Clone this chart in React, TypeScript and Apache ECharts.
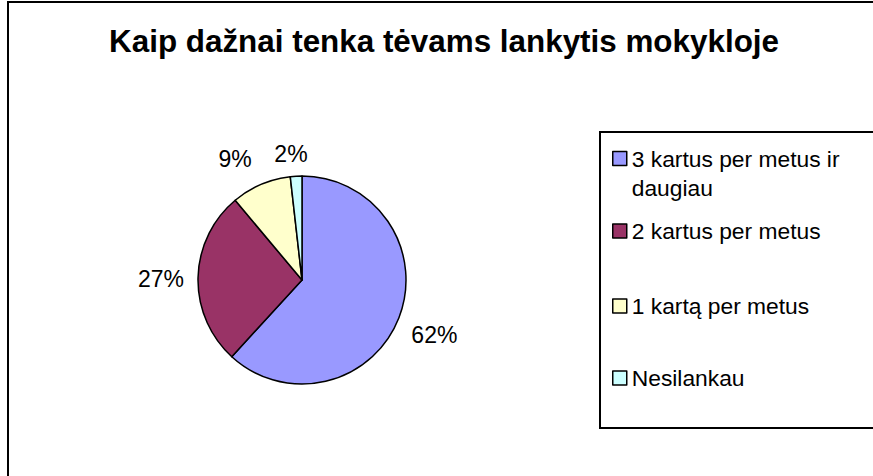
import React, { useEffect, useRef } from "react";
import * as echarts from "echarts";

const titleText = "Kaip dažnai tenka tėvams lankytis mokykloje";
const categories = [
  "3 kartus per metus ir daugiau",
  "2 kartus per metus",
  "1 kartą per metus",
  "Nesilankau",
];
const values = [61.8, 27.1, 9.3, 1.8];
const colors = ["#9999FF", "#993366", "#FFFFCC", "#CCFFFF"];
const legendTops = [115, 216.5, 291.5, 363.5];

export default function App() {
  const ref = useRef<HTMLDivElement>(null);
  useEffect(() => {
    if (!ref.current) return;
    const chart = echarts.init(ref.current, undefined, { renderer: "svg" });
    const font = "'Liberation Sans', Arial, sans-serif";
    const data = categories.map((name, i) => ({
      name,
      value: values[i],
      itemStyle: { color: colors[i] },
    }));
    const labelShift: Record<number, [number, number]> = {
      0: [0, 4],
      1: [1, 2],
      2: [-11, 9],
      3: [-3, 16],
    };
    chart.setOption({
      animation: false,
      backgroundColor: "#ffffff",
      title: {
        text: titleText,
        left: 444,
        top: 26,
        padding: 0,
        textAlign: "center",
        textStyle: {
          fontFamily: font,
          fontSize: 31.4,
          fontWeight: "bold",
          color: "#000",
        },
      },
      legend: categories.map((name, i) => ({
        data: [name],
        orient: "vertical",
        left: 612,
        top: legendTops[i],
        padding: 0,
        itemWidth: 14,
        itemHeight: 14,
        icon: "rect",
        selectedMode: false,
        itemStyle: { borderColor: "#000", borderWidth: 1.5 },
        formatter: i === 0 ? () => "\n3 kartus per metus ir\ndaugiau" : undefined,
        textStyle: {
          fontFamily: font,
          fontSize: 22.8,
          lineHeight: 29,
          color: "#000",
        },
      })),
      graphic: [
        {
          type: "rect",
          shape: { x: 8, y: 2, width: 900, height: 520 },
          style: { fill: "none", stroke: "#000", lineWidth: 2 },
          silent: true,
          z: -1,
        },
        {
          type: "rect",
          shape: { x: 600, y: 132, width: 300, height: 296 },
          style: { fill: "none", stroke: "#000", lineWidth: 2 },
          silent: true,
          z: -1,
        },
      ],
      series: [
        {
          type: "pie",
          center: [302, 280],
          radius: 104,
          startAngle: 90,
          clockwise: true,
          avoidLabelOverlap: false,
          silent: true,
          label: { show: false },
          labelLine: { show: false },
          itemStyle: { borderColor: "#000", borderWidth: 1.5 },
          emphasis: { disabled: true },
          data,
        },
        {
          type: "pie",
          center: [302, 280],
          radius: [130, 148],
          startAngle: 90,
          clockwise: true,
          avoidLabelOverlap: false,
          silent: true,
          itemStyle: { color: "rgba(0,0,0,0)", borderWidth: 0 },
          emphasis: { disabled: true },
          label: {
            show: true,
            position: "inside",
            fontFamily: font,
            fontSize: 23,
            color: "#000",
            formatter: (p: any) => Math.round(p.percent) + "%",
          },
          labelLine: { show: false },
          labelLayout: (p: any) => {
            const s = labelShift[p.dataIndex] || [0, 0];
            return { dx: s[0], dy: s[1] };
          },
          data: categories.map((name, i) => ({
            name,
            value: values[i],
            itemStyle: { color: "rgba(0,0,0,0)" },
          })),
        },
      ],
    });
    return () => chart.dispose();
  }, []);
  return (
    <div
      ref={ref}
      style={{ position: "fixed", left: 0, top: 0, width: 873, height: 476 }}
    />
  );
}
